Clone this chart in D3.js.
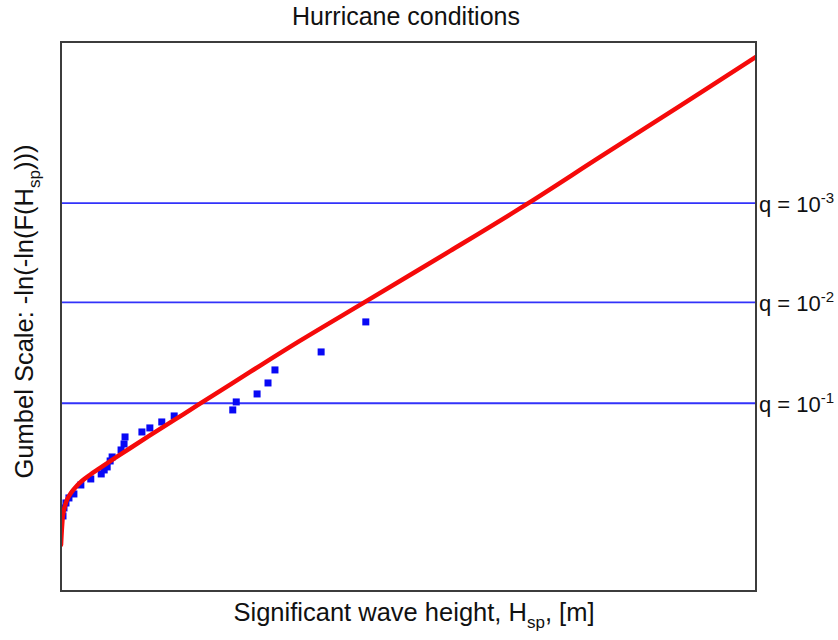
<!DOCTYPE html>
<html>
<head>
<meta charset="utf-8">
<script src="https://cdn.jsdelivr.net/npm/d3@7/dist/d3.min.js"></script>
<style>
  body { margin: 0; background: #fff; }
  text { font-family: "Liberation Sans", Arial, sans-serif; fill: #111; }
</style>
</head>
<body>
<svg id="chart" width="838" height="640"></svg>
<script>
// Observed storm sample: significant wave height [m] and Gumbel reduced variate
const sampleHs = [4.04, 4.06, 4.10, 4.16, 4.26, 4.40, 4.60, 4.81, 4.87, 4.93, 4.99, 5.03,
                  5.21, 5.27, 5.29, 5.63, 5.79, 6.03, 6.28, 7.46, 7.53, 7.95, 8.17, 8.31,
                  9.24, 10.14];
const sampleGumbel = [-0.373, -0.187, -0.071, 0.046, 0.139, 0.348, 0.488, 0.605, 0.698, 0.768,
                      0.907, 1.000, 1.163, 1.303, 1.466, 1.582, 1.676, 1.815, 1.955, 2.095,
                      2.281, 2.467, 2.723, 3.026, 3.445, 4.144];

// Fitted distribution drawn on the Gumbel scale
const fitHs = [4.00, 4.01, 4.02, 4.04, 4.08, 4.12, 4.20, 4.28, 4.42, 4.58, 4.79, 5.09,
               5.39, 5.79, 6.30, 6.76, 7.81, 8.81, 10.16, 11.84, 13.39, 14.86, 16.47, 18.00];
const fitGumbel = [-1.048, -0.816, -0.629, -0.350, -0.140, 0.000, 0.162, 0.279, 0.442, 0.581,
                   0.744, 0.977, 1.203, 1.501, 1.873, 2.211, 2.979, 3.701, 4.633, 5.797,
                   6.891, 7.985, 9.173, 10.314];

// Exceedance probability levels
const exceedanceQ = [1e-1, 1e-2, 1e-3];
const exceedanceExp = ["-1", "-2", "-3"];

const titleText = "Hurricane conditions";
const xLabelMain = "Significant wave height, H";
const xLabelSub = "sp";
const xLabelTail = ", [m]";
const yLabelMain = "Gumbel Scale: -ln(-ln(F(H";
const yLabelSub = "sp";
const yLabelTail = ")))";

const xDomain = [4, 18];
const yDomain = [-2.12, 10.66];

const margin = { left: 61, top: 42, right: 82, bottom: 49 };
const W = 838, H = 640;
const iw = W - margin.left - margin.right;
const ih = H - margin.top - margin.bottom;

const svg = d3.select("#chart");
const g = svg.append("g").attr("transform", `translate(${margin.left},${margin.top})`);

const x = d3.scaleLinear().domain(xDomain).range([0, iw]);
const y = d3.scaleLinear().domain(yDomain).range([ih, 0]);

svg.append("defs").append("clipPath").attr("id", "plotClip")
  .append("rect").attr("width", iw).attr("height", ih);

// Return-level lines: Gumbel variate of non-exceedance probability 1 - q
const levels = exceedanceQ.map((q, i) => ({ q, exp: exceedanceExp[i], v: -Math.log(-Math.log(1 - q)) }));

g.selectAll("line.level").data(levels).join("line")
  .attr("class", "level")
  .attr("x1", 0).attr("x2", iw)
  .attr("y1", d => y(d.v)).attr("y2", d => y(d.v))
  .attr("stroke", "#3232fa").attr("stroke-width", 1.8);

const plot = g.append("g").attr("clip-path", "url(#plotClip)");

// Sample points
const pts = sampleHs.map((h, i) => ({ h, v: sampleGumbel[i] }));
const sq = 7;
plot.selectAll("rect.pt").data(pts).join("rect")
  .attr("class", "pt")
  .attr("x", d => x(d.h) - sq / 2).attr("y", d => y(d.v) - sq / 2)
  .attr("width", sq).attr("height", sq)
  .attr("fill", "#0808f5");

// Fitted curve
const fit = fitHs.map((h, i) => ({ h, v: fitGumbel[i] }));
plot.append("path").datum(fit)
  .attr("fill", "none").attr("stroke", "#f50a0a").attr("stroke-width", 4.5)
  .attr("stroke-linecap", "round")
  .attr("d", d3.line().x(d => x(d.h)).y(d => y(d.v)).curve(d3.curveCatmullRom.alpha(0.5)));

// Frame
g.append("rect").attr("x", 0).attr("y", 0).attr("width", iw).attr("height", ih)
  .attr("fill", "none").attr("stroke", "#3c3c3c").attr("stroke-width", 2);

// Level labels on the right
const lab = g.selectAll("text.lvl").data(levels).join("text")
  .attr("class", "lvl")
  .attr("x", iw + 3).attr("y", d => y(d.v) + 9)
  .style("font-size", "22px");
lab.append("tspan").text("q = 10");
lab.append("tspan").attr("dy", -9).style("font-size", "15px").text(d => d.exp);

// Title
svg.append("text").attr("x", 406).attr("y", 25)
  .attr("text-anchor", "middle").style("font-size", "25px").text(titleText);

// X label
const xl = svg.append("text").attr("x", 414).attr("y", 621)
  .attr("text-anchor", "middle").style("font-size", "25.5px");
xl.append("tspan").text(xLabelMain);
xl.append("tspan").attr("dy", 7).style("font-size", "17px").text(xLabelSub);
xl.append("tspan").attr("dy", -7).text(xLabelTail);

// Y label
const yl = svg.append("text")
  .attr("transform", "translate(33,311.5) rotate(-90)")
  .attr("text-anchor", "middle").style("font-size", "25.5px");
yl.append("tspan").text(yLabelMain);
yl.append("tspan").attr("dy", 7).style("font-size", "17px").text(yLabelSub);
yl.append("tspan").attr("dy", -7).text(yLabelTail);
</script>
</body>
</html>
